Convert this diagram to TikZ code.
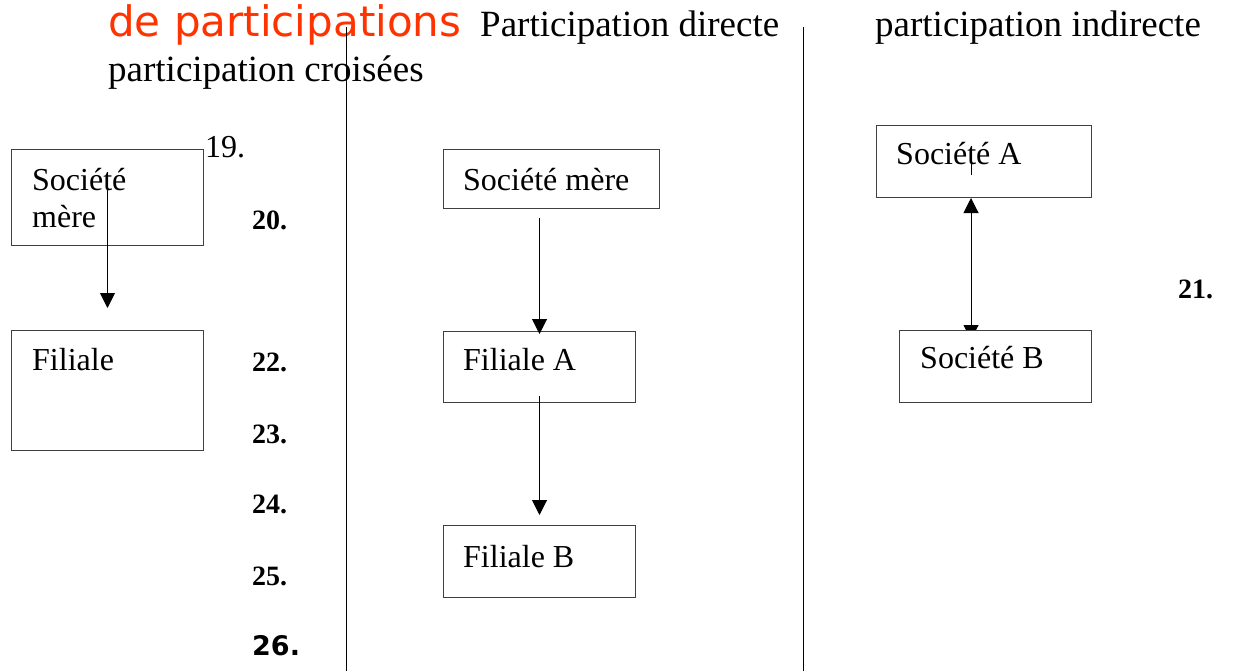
\documentclass[tikz,border=0pt]{standalone}
\usepackage{fontspec}
\setmainfont{Liberation Serif}
\newfontfamily\dejavu{DejaVu Sans}
\usetikzlibrary{arrows.meta,positioning,backgrounds}

\definecolor{titlered}{RGB}{255,51,0}

\tikzset{
  box/.style={draw=black!75, line width=1pt, inner sep=0pt, anchor=north west},
  boxtext/.style={anchor=base west, inner sep=0pt, font=\fontsize{32}{38}\selectfont},
  numlbl/.style={anchor=base west, inner sep=0pt, font=\fontsize{28}{34}\selectfont\bfseries},
  headtext/.style={anchor=base west, inner sep=0pt, font=\fontsize{37}{44}\selectfont},
  arr/.style={line width=1pt, -{Triangle[width=15pt,length=15pt]}},
  dblarr/.style={line width=1pt, {Triangle[width=15pt,length=15pt]}-{Triangle[width=15pt,length=15pt]}}
}

\begin{document}
\begin{tikzpicture}[x=1pt, y=-1pt]

    % --- Frame ---
    \useasboundingbox (0,0) rectangle (1233,671);

    % --- Headings ---
    \node[headtext, font=\fontsize{42}{50}\selectfont\dejavu, text=titlered] (titre) at (108,37) {de participations};
    \node[headtext] (hdirect) at (480,37) {Participation directe};
    \node[headtext] (hindirect) at (875,37) {participation indirecte};
    \node[headtext] (hcroise) at (108,82) {participation croisées};

    % --- Column separators ---
    \draw[line width=1pt] (346,27) -- (346,671);
    \draw[line width=1pt] (803,27) -- (803,671);

    % --- Left column: direct link ---
    \node[box, minimum width=192pt, minimum height=96pt] (smL) at (11,149) {};
    \node[boxtext] (smLa) at ([xshift=21pt, yshift=-41pt]smL.north west) {Société};
    \node[boxtext] (smLb) at ([yshift=-37pt]smLa.base west) {mère};

    \node[box, minimum width=192pt, minimum height=120pt] (filL) at (11,330) {};
    \node[boxtext] (filLa) at ([xshift=21pt, yshift=-40pt]filL.north west) {Filiale};

    % arrow starts inside the upper box
    \draw[arr] ([yshift=10pt]smL.center) -- ([yshift=22pt]filL.north);

    % --- Numbering ---
    \node[anchor=base west, inner sep=0pt, font=\fontsize{32}{38}\selectfont] (n19) at (205,158) {19.};
    \node[numlbl] (n20) at (252,229) {20.};
    \node[numlbl] (n22) at (252,371) {22.};
    \node[numlbl] (n23) at (252,443) {23.};
    \node[numlbl] (n24) at (252,513) {24.};
    \node[numlbl] (n25) at (252,585) {25.};
    \node[numlbl, font=\fontsize{27}{32}\selectfont\dejavu\bfseries] (n26) at (252,655) {26.};
    \node[numlbl] (n21) at (1178,298) {21.};

    % --- Middle column: chain of subsidiaries ---
    \node[box, minimum width=216pt, minimum height=59pt] (smM) at (443,149) {};
    \node[boxtext] (smMa) at ([xshift=20pt, yshift=-41pt]smM.north west) {Société mère};

    \node[box, minimum width=192pt, minimum height=71pt] (faM) at (443,331) {};
    \node[boxtext] (faMa) at ([xshift=20pt, yshift=-39pt]faM.north west) {Filiale A};

    \node[box, minimum width=192pt, minimum height=72pt] (fbM) at (443,525) {};
    \node[boxtext] (fbMa) at ([xshift=20pt, yshift=-42pt]fbM.north west) {Filiale B};

    \draw[arr] ([yshift=-9pt]smM.south -| faM.north) -- ([yshift=-3pt]faM.north);
    \draw[arr] ([yshift=7pt]faM.south) -- ([yshift=10pt]fbM.north);

    % --- Right column: cross holding ---
    \node[box, minimum width=215pt, minimum height=72pt] (saR) at (876,125) {};
    \node[boxtext] (saRa) at ([xshift=20pt, yshift=-40pt]saR.north west) {Société A};

    % lower box is filled, so the lower head hides behind it
    \node[box, fill=white, minimum width=192pt, minimum height=72pt] (sbR) at (899,330) {};
    \node[boxtext] (sbRa) at ([xshift=21pt, yshift=-38pt]sbR.north west) {Société B};

    \coordinate (rx) at (971,0);
    \draw[line width=0.8pt] (971,160) -- (971,175);
    \begin{pgfonlayer}{background}
      \draw[dblarr] (saR.south -| rx) -- ([yshift=-10pt]sbR.north -| rx);
    \end{pgfonlayer}

\end{tikzpicture}
\end{document}
